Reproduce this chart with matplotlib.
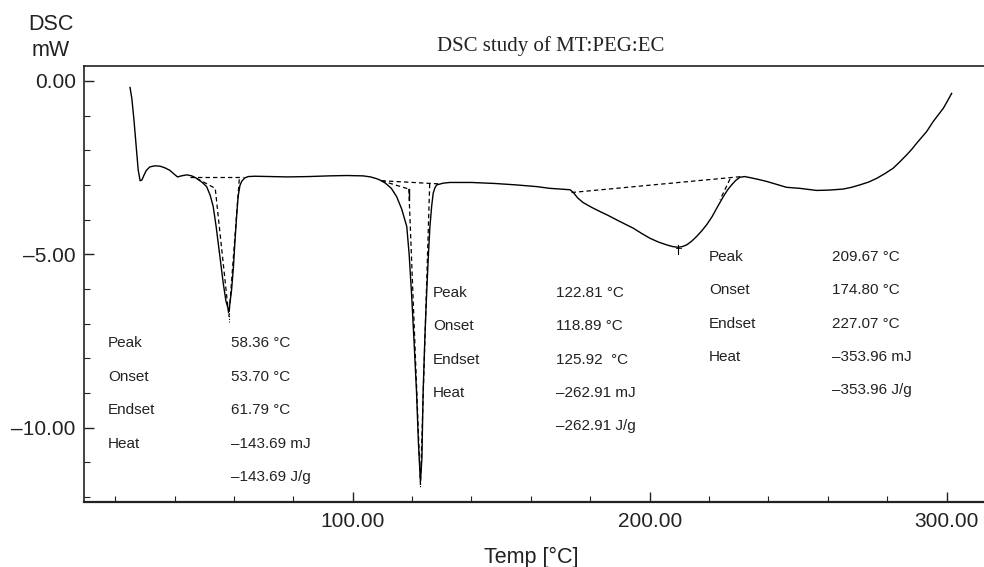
import matplotlib
matplotlib.use("Agg")
import matplotlib.pyplot as plt
from matplotlib.ticker import FixedLocator, MultipleLocator, FixedFormatter

# ---------------- data ----------------
temp = [25.0, 25.6, 26.3, 27.0, 27.75, 28.4, 29.0, 29.7, 30.5, 31.7, 33.4, 35.1, 36.8, 38.4,
        40.0, 41.0, 42.3, 44.1, 45.8, 47.4, 49.2, 50.8, 52.0, 53.0, 54.0, 54.7, 55.6,
        56.4, 57.3, 58.3, 59.2, 59.8, 60.3, 60.9, 61.4, 62.0, 62.6, 63.6, 64.8, 67.0,
        72.0, 78.0, 85.0, 92.0, 98.0, 103.5, 106.0, 108.0, 109.2, 111.0, 113.0, 114.8,
        116.5, 118.2, 119.0, 119.8, 120.7, 121.5, 122.1, 122.8, 123.3, 123.7, 124.3,
        124.9, 125.5, 126.0, 126.6, 127.1, 127.7, 128.3, 130.5, 132.7, 140.0, 148.0,
        155.0, 162.0, 166.4, 170.0, 173.2, 174.3, 175.8, 177.6, 180.5, 183.3, 186.0,
        188.9, 191.7, 194.5, 197.3, 200.1, 203.0, 205.7, 207.8, 209.6, 211.0, 212.5,
        214.2, 215.8, 217.5, 219.2, 221.0, 222.6, 224.8, 226.2, 227.6, 229.0, 230.4,
        232.0, 233.8, 236.5, 239.4, 243.0, 246.1, 250.6, 256.2, 260.5, 265.2, 268.0,
        270.8, 273.7, 276.5, 279.3, 282.0, 284.3, 286.6, 288.3, 289.9, 291.6, 293.3,
        295.5, 297.2, 298.9, 300.3, 301.7]
dsc = [-0.19, -0.50, -1.10, -1.80, -2.57, -2.88, -2.86, -2.72, -2.58, -2.48, -2.45, -2.46,
       -2.51, -2.58, -2.70, -2.77, -2.74, -2.71, -2.74, -2.81, -2.92, -3.05, -3.30,
       -3.62, -4.20, -4.68, -5.30, -5.84, -6.35, -6.65, -6.03, -5.40, -4.68, -3.90,
       -3.34, -3.02, -2.90, -2.80, -2.76, -2.75, -2.76, -2.77, -2.76, -2.74, -2.73,
       -2.74, -2.77, -2.82, -2.86, -2.95, -3.10, -3.34, -3.70, -4.20, -5.00, -6.12,
       -7.60, -9.00, -10.40, -11.55, -10.90, -9.00, -7.40, -6.12, -5.00, -4.20, -3.60,
       -3.24, -3.08, -3.00, -2.95, -2.93, -2.93, -2.96, -3.00, -3.05, -3.10, -3.12,
       -3.14, -3.22, -3.38, -3.51, -3.65, -3.77, -3.88, -4.01, -4.13, -4.25, -4.40,
       -4.54, -4.65, -4.73, -4.78, -4.80, -4.78, -4.73, -4.62, -4.49, -4.33, -4.15,
       -3.92, -3.67, -3.34, -3.15, -3.00, -2.87, -2.78, -2.76, -2.79, -2.84, -2.90,
       -2.99, -3.07, -3.10, -3.16, -3.15, -3.12, -3.07, -3.00, -2.92, -2.81, -2.67,
       -2.52, -2.33, -2.13, -1.97, -1.80, -1.63, -1.46, -1.17, -0.98, -0.79, -0.58,
       -0.36]

# peak evaluation results
peak_T = [58.36, 122.81, 209.67]
onset_T = [53.70, 118.89, 174.80]
endset_T = [61.79, 125.92, 227.07]
heat_mJ = [-143.69, -262.91, -353.96]

# dashed baselines and tangents (temperature, mW)
base1_T = [45.2, 63.1];     base1_y = [-2.76, -2.76]
tan1a_T = [47.4, 53.70, 58.3];  tan1a_y = [-2.81, -3.10, -6.80]
tan1b_T = [61.79, 58.3];    tan1b_y = [-2.84, -6.80]
base2_T = [109.7, 128.8];   base2_y = [-2.88, -2.97]
tan2a_T = [109.7, 118.89];  tan2a_y = [-2.88, -3.12]
tan2c_T = [118.89, 122.81]; tan2c_y = [-3.12, -11.65]
tan2b_T = [125.92, 122.81]; tan2b_y = [-2.97, -11.65]
base3_T = [173.7, 231.0];   base3_y = [-3.22, -2.76]
tan3_T = [227.07, 223.7];   tan3_y = [-2.83, -3.43]

xticks_major = [100, 200, 300]
xtick_labels = ["100.00", "200.00", "300.00"]
yticks_major = [0, -5, -10]
ytick_labels = ["0.00", "\u20135.00", "\u201310.00"]

# ---------------- figure ----------------
W, H = 984, 567
fig = plt.figure(figsize=(W / 100, H / 100), dpi=100)
ax = fig.add_axes([84 / W, 1 - 501.7 / H, 1 - 84 / W, (501.7 - 66) / H])
sans = "Liberation Sans"

ax.plot(temp, dsc, color="black", lw=1.0)
dk = dict(color="black", lw=0.9, ls=(0, (3.5, 2.5)))
for xs, ys in [(base1_T, base1_y), (tan1a_T, tan1a_y), (tan1b_T, tan1b_y),
               (base2_T, base2_y), (tan2a_T, tan2a_y), (tan2c_T, tan2c_y),
               (tan2b_T, tan2b_y), (base3_T, base3_y), (tan3_T, tan3_y)]:
    ax.plot(xs, ys, **dk)
# small solid marks
ax.plot([onset_T[1], onset_T[1]], [-3.12, -3.45], color="black", lw=1.0)
ax.plot([peak_T[0], peak_T[0]], [-6.62, -6.95], color="black", lw=0.8, ls=(0, (1, 1.5)))
ax.plot([peak_T[1], peak_T[1]], [-11.5, -11.75], color="black", lw=0.8, ls=(0, (1, 1.5)))
ax.plot([peak_T[2], peak_T[2]], [-4.72, -4.98], color="black", lw=0.8)
ax.plot([peak_T[2] - 0.8, peak_T[2] + 0.8], [-4.82, -4.82], color="black", lw=0.6)

ax.set_xlim(9.5, 312.6)
ax.set_ylim(-12.14, 0.43)

ax.xaxis.set_major_locator(FixedLocator(xticks_major))
ax.xaxis.set_major_formatter(FixedFormatter(xtick_labels))
ax.xaxis.set_minor_locator(MultipleLocator(20))
ax.yaxis.set_major_locator(FixedLocator(yticks_major))
ax.yaxis.set_major_formatter(FixedFormatter(ytick_labels))
ax.yaxis.set_minor_locator(MultipleLocator(1))
ax.tick_params(which="both", direction="in", colors="#222222", labelsize=15)
ax.tick_params(which="major", length=7, width=1.0)
ax.tick_params(which="minor", length=4.5, width=0.8)
ax.tick_params(axis="y", which="major", pad=6)
ax.tick_params(axis="x", which="major", pad=7.5)
ax.tick_params(top=False, right=False, which="both")
for lab in ax.get_xticklabels() + ax.get_yticklabels():
    lab.set_fontfamily(sans)
ax.spines["right"].set_visible(False)
ax.spines["top"].set_linewidth(1.2)
ax.spines["left"].set_linewidth(1.2)
ax.spines["bottom"].set_linewidth(1.6)
for s in ax.spines.values():
    s.set_color("#222222")

# annotations
groups = [
    ([17.5, 59.0], [-7.56, -8.54, -9.49, -10.47, -11.42],
     ["58.36 \u00b0C", "53.70 \u00b0C", "61.79 \u00b0C", "\u2013143.69 mJ", "\u2013143.69 J/g"]),
    ([127.0, 168.4], [-6.11, -7.07, -8.05, -9.00, -9.95],
     ["122.81 \u00b0C", "118.89 \u00b0C", "125.92  \u00b0C", "\u2013262.91 mJ", "\u2013262.91 J/g"]),
    ([220.0, 261.4], [-5.08, -6.03, -7.01, -7.96, -8.91],
     ["209.67 \u00b0C", "174.80 \u00b0C", "227.07 \u00b0C", "\u2013353.96 mJ", "\u2013353.96 J/g"]),
]
names = ["Peak", "Onset", "Endset", "Heat"]
for (xl, xv), rows, vals in groups:
    for i, r in enumerate(rows):
        if i < 4:
            ax.text(xl, r, names[i], fontsize=11, family=sans, va="center", ha="left", color="#222222")
        ax.text(xv, r, vals[i], fontsize=11, family=sans, va="center", ha="left", color="#222222")

fig.text(51 / W, 1 - 25 / H, "DSC", fontsize=15.5, family=sans, ha="center", va="center", color="#222222")
fig.text(51 / W, 1 - 50 / H, "mW", fontsize=15.5, family=sans, ha="center", va="center", color="#222222")
fig.text(551 / W, 1 - 46 / H, "DSC study of MT:PEG:EC", fontsize=15, family="Liberation Serif",
         ha="center", va="center", color="#222222")
fig.text(531 / W, 1 - 557 / H, "Temp [\u00b0C]", fontsize=15.5, family=sans, ha="center", va="center", color="#222222")

fig.savefig("out.png", dpi=100)
